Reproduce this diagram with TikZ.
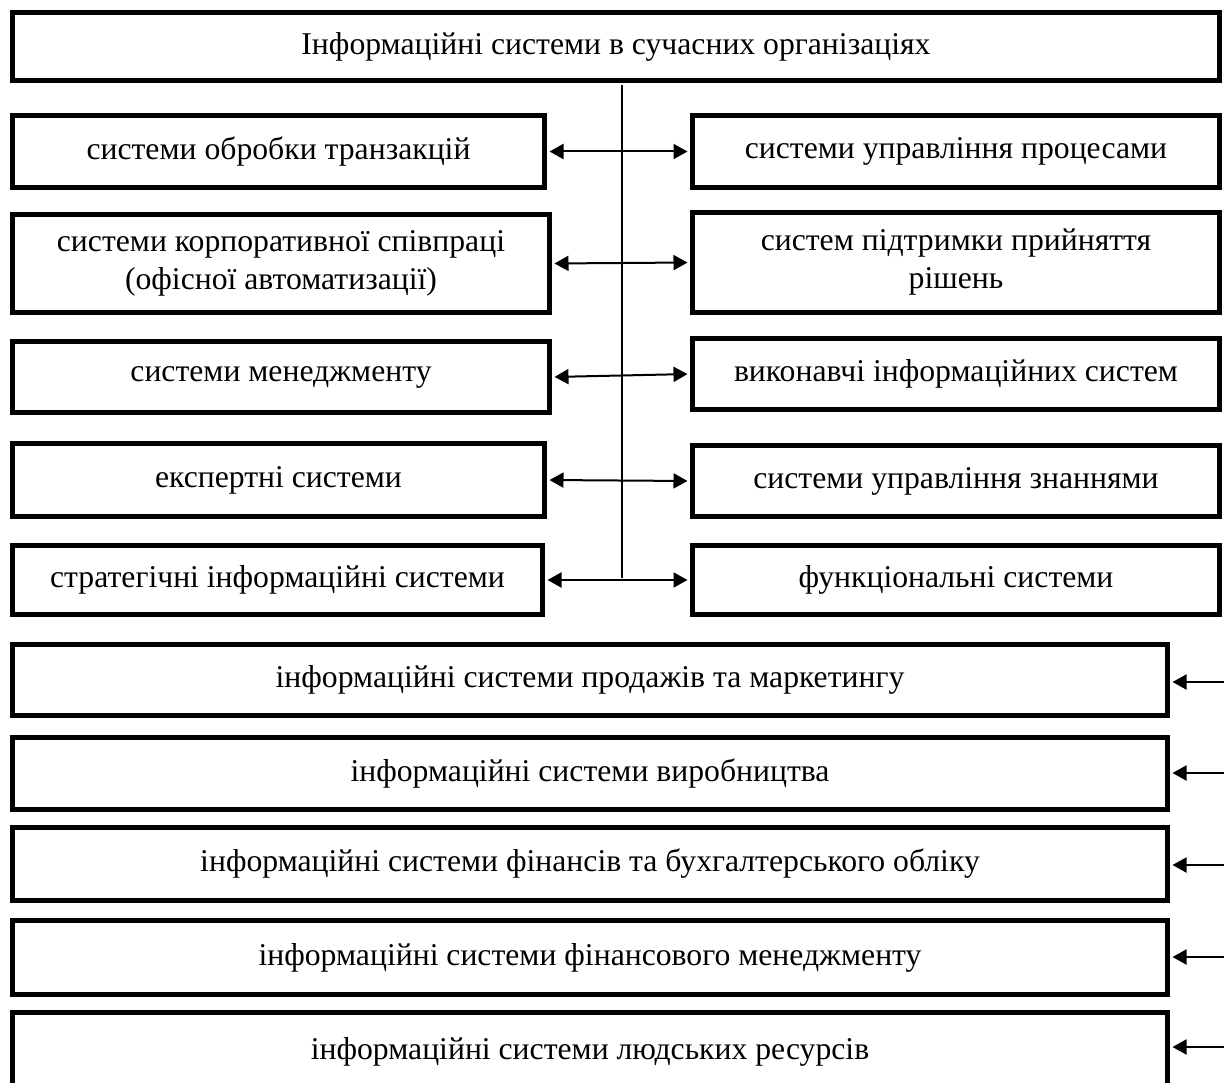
\documentclass[tikz,border=0pt]{standalone}
\usepackage{fontspec}
\setmainfont{Liberation Serif}
\usepackage{tikz}
\usetikzlibrary{positioning,
				arrows.meta,
				calc}

\begin{document}
\begin{tikzpicture}[x=1pt,y=-1pt,>={Triangle[length=14pt,width=15pt]},
		sysbox/.style={draw, line width=5pt, align=center, inner sep=0pt,
			font=\fontsize{31.7}{38}\selectfont},
		link/.style={line width=2pt, shorten <=2.5pt, shorten >=2.5pt}]
		\clip (0,0) rectangle (1225,1083);
		\node[sysbox, minimum width=1207pt, minimum height=68pt] (top) at (616,46.5) {Інформаційні системи в сучасних організаціях};
		\node[sysbox, minimum width=532pt, minimum height=72pt] (tps) at (278.5,151.5) {системи обробки транзакцій};
		\node[sysbox, minimum width=527pt, minimum height=72pt] (pcs) at (956,151.5) {системи управління процесами};
		\node[sysbox, minimum width=537pt, minimum height=98pt] (oas) at (281,263.5) {системи корпоративної співпраці\\(офісної автоматизації)};
		\node[sysbox, minimum width=527pt, minimum height=100pt] (dss) at (956,262.5) {систем підтримки прийняття\\рішень};
		\node[sysbox, minimum width=537pt, minimum height=71pt] (mis) at (281,377) {системи менеджменту};
		\node[sysbox, minimum width=527pt, minimum height=71pt] (eis) at (956,374) {виконавчі інформаційних систем};
		\node[sysbox, minimum width=532pt, minimum height=73pt] (exs) at (278.5,480) {експертні системи};
		\node[sysbox, minimum width=527pt, minimum height=71pt] (kms) at (956,481) {системи управління знаннями};
		\node[sysbox, minimum width=530pt, minimum height=69pt] (sis) at (277.5,580) {стратегічні інформаційні системи};
		\node[sysbox, minimum width=527pt, minimum height=69pt] (fns) at (956,580) {функціональні системи};
		\node[sysbox, minimum width=1155pt, minimum height=71pt] (mkt) at (590,680) {інформаційні системи продажів та маркетингу};
		\node[sysbox, minimum width=1155pt, minimum height=72pt] (prd) at (590,773.5) {інформаційні системи виробництва};
		\node[sysbox, minimum width=1155pt, minimum height=73pt] (acc) at (590,864) {інформаційні системи фінансів та бухгалтерського обліку};
		\node[sysbox, minimum width=1155pt, minimum height=74pt] (fin) at (590,957.5) {інформаційні системи фінансового менеджменту};
		\node[sysbox, minimum width=1155pt, minimum height=78pt] (hrm) at (590,1051.5) {інформаційні системи людських ресурсів};

		\coordinate (hub) at (622,580);
		\draw[link] (top.south -| hub) -- (hub);
		\foreach \l/\r in {tps/pcs, oas/dss, mis/eis, exs/kms, sis/fns}
			\draw[link, <->] (\l.east) -- (\r.west);

		\foreach \b/\y in {mkt/682, prd/773, acc/865, fin/957, hrm/1047}{
			\coordinate (in-\b) at (1226,\y);
			\draw[link, ->] (in-\b) -- (\b.east |- in-\b);
		}
	\end{tikzpicture}
\end{document}
